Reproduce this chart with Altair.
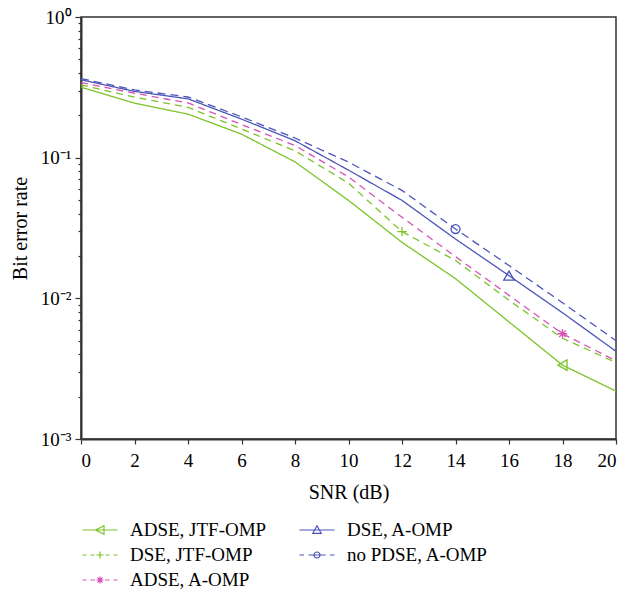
import altair as alt
import pandas as pd

snr = [0, 2, 4, 6, 8, 10, 12, 14, 16, 18, 20]
names = ["ADSE, JTF-OMP", "DSE, JTF-OMP", "ADSE, A-OMP", "DSE, A-OMP", "no PDSE, A-OMP"]
ber_adse_jtf = [0.317, 0.244, 0.204, 0.147, 0.0933, 0.0497, 0.025, 0.0138, 0.0068, 0.00335, 0.00219]
ber_dse_jtf = [0.329, 0.269, 0.228, 0.160, 0.112, 0.0659, 0.0298, 0.0186, 0.0097, 0.0052, 0.0035]
ber_adse_aomp = [0.342, 0.287, 0.245, 0.172, 0.122, 0.073, 0.0377, 0.0198, 0.0105, 0.0056, 0.0036]
ber_dse_aomp = [0.358, 0.296, 0.262, 0.188, 0.132, 0.0815, 0.0497, 0.0264, 0.0145, 0.0079, 0.0042]
ber_nopdse_aomp = [0.365, 0.303, 0.270, 0.195, 0.138, 0.093, 0.0585, 0.0311, 0.0171, 0.0093, 0.0050]
series_values = [ber_adse_jtf, ber_dse_jtf, ber_adse_aomp, ber_dse_aomp, ber_nopdse_aomp]
marker_snr = [18, 12, 18, 16, 14]

colors = ["#7cc32a", "#7cc32a", "#d553b8", "#4c55b8", "#4c55b8"]
dashes = [[1, 0], [7, 5], [7, 5], [1, 0], [8, 5]]

plus = "M-1,0L1,0M0,-1L0,1"
aster = "M-1,0L1,0M0,-1L0,1M-0.7,-0.7L0.7,0.7M-0.7,0.7L0.7,-0.7"
shapes = ["triangle-left", plus, aster, "triangle-up", "circle"]
sizes = [110, 90, 90, 110, 80]

# legend symbols: line segment + marker drawn as one path
leg_paths = [
    "M-1.75,0L1.75,0M-0.45,0L0.4,-0.42L0.4,0.42Z",
    "M-1.75,0L-1.35,0M-0.95,0L-0.55,0M-0.35,0L0.35,0M0,-0.35L0,0.35M0.55,0L0.95,0M1.35,0L1.75,0",
    "M-1.75,0L-1.35,0M-0.95,0L-0.5,0M-0.35,0L0.35,0M0,-0.35L0,0.35M-0.25,-0.25L0.25,0.25M-0.25,0.25L0.25,-0.25M0.5,0L0.95,0M1.35,0L1.75,0",
    "M-1.75,0L1.75,0M0,-0.42L0.42,0.33L-0.42,0.33Z",
    "M-1.75,0L-1.3,0M-0.85,0L0.85,0M0.3,0A0.3,0.3 0 1 1 -0.3,0A0.3,0.3 0 1 1 0.3,0M1.3,0L1.75,0",
]

rows = []
for n, vals in zip(names, series_values):
    for s, v in zip(snr, vals):
        rows.append({"snr": s, "ber": v, "series": n})
df = pd.DataFrame(rows)

FONT = "Liberation Serif"

xenc = alt.X("snr:Q", scale=alt.Scale(domain=[0, 20], nice=False),
             axis=alt.Axis(values=snr, title="SNR (dB)", tickSize=5, labelPadding=7,
                           titlePadding=12, grid=False, labelFont=FONT, labelFontSize=19,
                           titleFont=FONT, titleFontSize=20))

yvals = []
for d in [0.001, 0.01, 0.1]:
    for k in range(1, 10):
        yvals.append(round(d * k, 6))
yvals.append(1.0)
r = "round(log(datum.value)/LN10)"
major = f"abs(log(datum.value)/LN10 - {r}) < 0.001"
label_expr = (f"{major} ? ({r} == 0 ? '10⁰' : {r} == -1 ? '10⁻¹' : "
              f"{r} == -2 ? '10⁻²' : '10⁻³') : ''")
yenc = alt.Y("ber:Q", scale=alt.Scale(type="log", domain=[0.001, 1], nice=False),
             axis=alt.Axis(values=yvals, labelExpr=label_expr, title="Bit error rate",
                           tickSize={"condition": {"test": major, "value": 6}, "value": 3},
                           labelOverlap=False, labelPadding=4, titlePadding=10, grid=False,
                           labelFont=FONT, labelFontSize=19, titleFont=FONT, titleFontSize=20))

layers = []
for i, n in enumerate(names):
    layers.append(
        alt.Chart(df).transform_filter(alt.datum.series == n)
        .mark_line(color=colors[i], strokeDash=dashes[i], strokeWidth=1.3)
        .encode(x=xenc, y=yenc)
    )
for i, n in enumerate(names):
    layers.append(
        alt.Chart(df).transform_filter((alt.datum.series == n) & (alt.datum.snr == marker_snr[i]))
        .mark_point(shape=shapes[i], filled=False, size=sizes[i], color=colors[i],
                    strokeWidth=1.3, opacity=1)
        .encode(x=xenc, y=yenc)
    )

leg = alt.Legend(title=None, orient="none", legendX=0, legendY=502, columns=2,
                 values=names, symbolSize=400, symbolOffset=8, labelOffset=19,
                 labelFont=FONT, labelFontSize=19, labelColor="black",
                 rowPadding=4, columnPadding=30, symbolStrokeWidth=1.2, labelLimit=400,
                 symbolFillColor="transparent")
layers.append(
    alt.Chart(df).transform_filter("false")
    .mark_point(filled=False, strokeWidth=1.2, opacity=1)
    .encode(x=xenc, y=yenc,
            color=alt.Color("series:N", scale=alt.Scale(domain=names, range=colors), legend=leg),
            shape=alt.Shape("series:N", scale=alt.Scale(domain=names, range=leg_paths), legend=leg))
)

chart = alt.layer(*layers).properties(
    width=535, height=422,
    autosize=alt.AutoSizeParams(type="none"),
    padding={"left": 73, "top": 9, "right": 2, "bottom": 152},
).configure_view(stroke="#333", strokeWidth=1.5).configure_axis(
    labelColor="black", titleFontWeight="normal", titleColor="black",
    domainColor="#333", domainWidth=2, tickColor="#333", tickWidth=1.2,
)

chart.save("out.html", embed_options={"renderer": "svg", "actions": False})
